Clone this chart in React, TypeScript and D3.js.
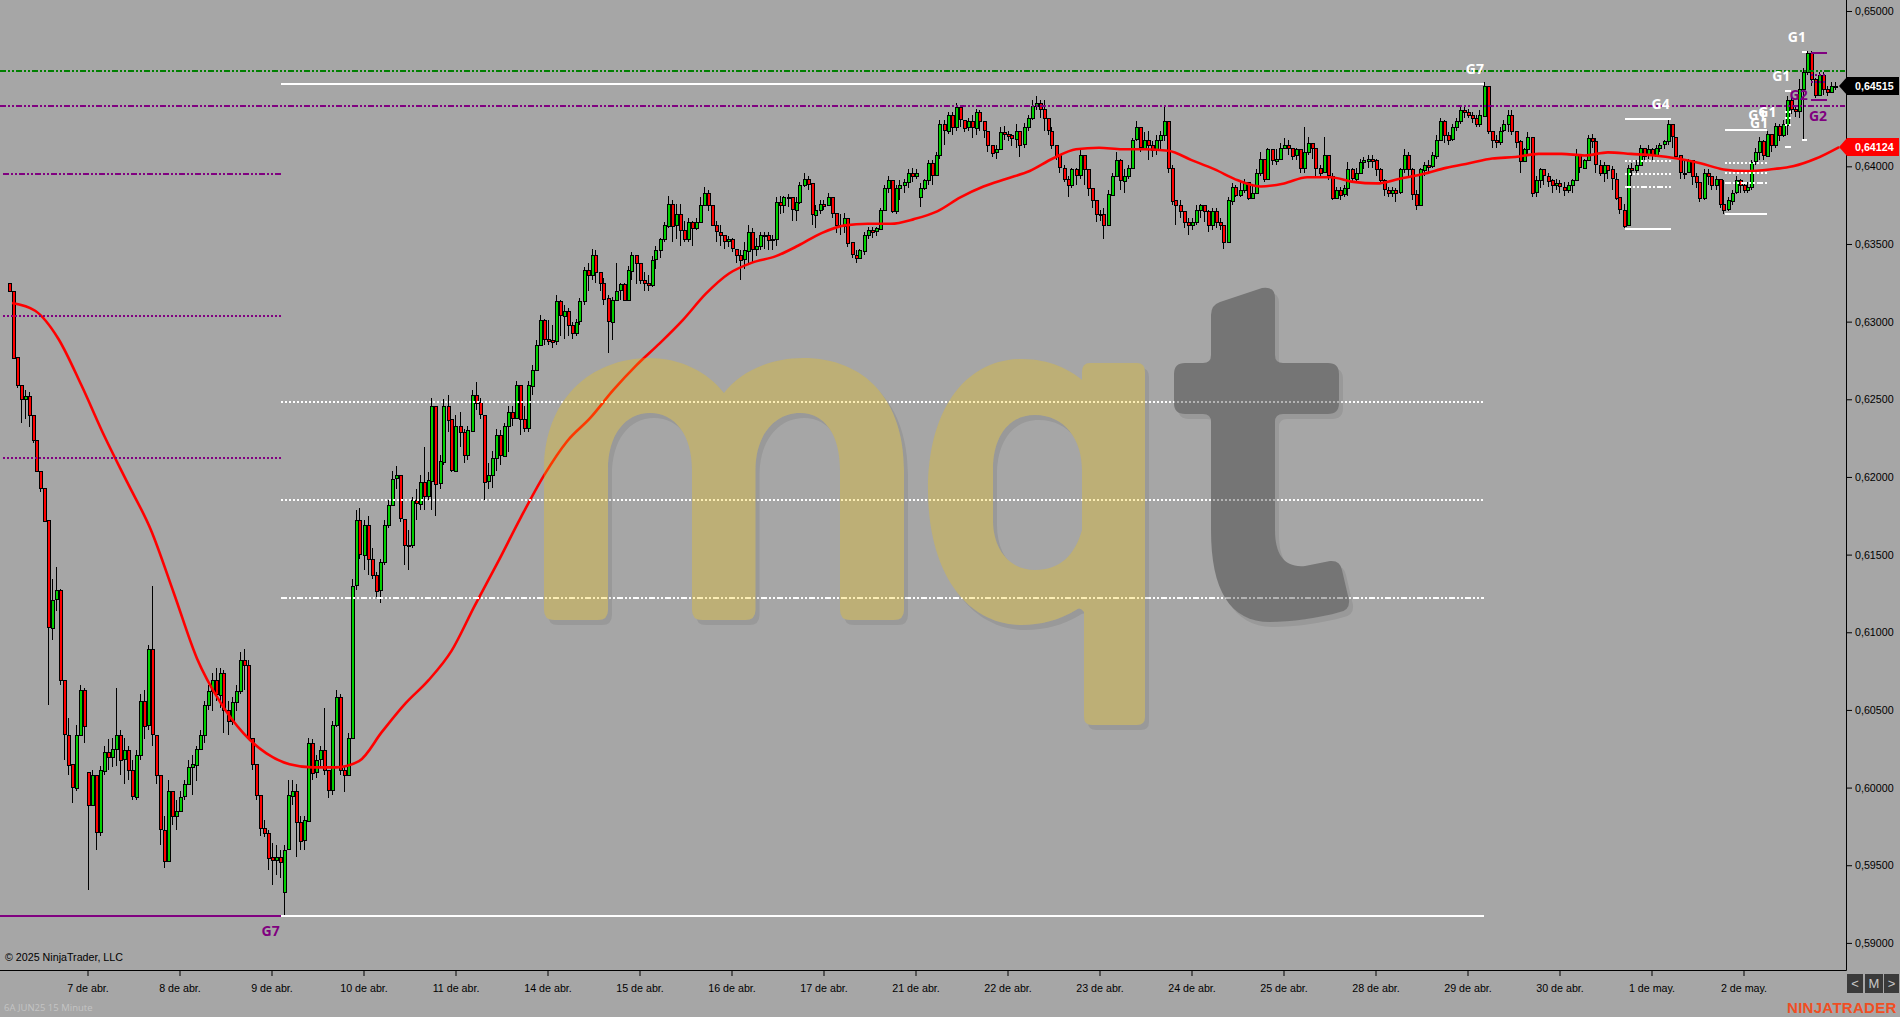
import { useRef, useEffect } from "react";
import * as d3 from "d3";

// bars are [high, low, close] or [high, low, close, open] in 1/10000 of a point, open defaults to previous close
const apr04 = [[6325,6319,6320,6325],[6320,6277,6277],[6277,6257,6259],[6259,6235,6250],[6256,6237,6252],[6255,6232,6240],[6240,6222,6224],[6224,6203,6204],[6204,6190,6193],[6193,6171,6172],[6172,6053,6103],[6134,6095,6121],[6142,6114,6127],[6128,6066,6069],[6069,6018,6034],[6045,6008,6015],[6015,5990,6000],[6040,5998,6034],[6066,6033,6063],[6064,6029,6040]];
const apr07 = [[6010,5934,5989,6010],[6011,5992,6008],[6008,5960,5971],[6014,5969,6011],[6027,6008,6023],[6031,6011,6020],[6032,6013,6025],[6064,6014,6034],[6037,6008,6018],[6032,6002,6024],[6027,6005,6011],[6018,5992,5994],[6024,5992,6021],[6060,6018,6056],[6063,6031,6040],[6092,6037,6089],[6130,6027,6034],[6034,6002,6008],[6008,5963,5973],[5982,5948,5953],[6005,5952,5998],[5998,5976,5982],[5992,5973,5985]];
const apr08 = [[5998,5984,5994],[6005,5992,6002],[6018,6002,6013],[6021,5995,6015],[6027,6004,6025],[6037,6025,6034],[6056,6029,6053],[6066,6050,6062],[6074,6049,6069],[6077,6056,6060],[6077,6051,6074],[6076,6035,6050],[6056,6034,6043],[6058,6040,6055],[6066,6049,6062],[6087,6060,6082],[6089,6063,6079],[6082,6031,6032],[6032,6011,6015],[6015,5992,5995],[5995,5969,5974],[5979,5968,5971],[5973,5947,5955]];
const apr09 = [[5964,5937,5953],[5963,5944,5955],[5960,5942,5952],[5963,5918,5960,5933],[6005,5960,5995],[6005,5989,5998],[6002,5955,5978],[5982,5960,5966],[5982,5960,5979],[6032,5992,6029],[6031,6005,6010],[6021,6006,6018],[6027,6014,6024],[6051,6008,6011],[6011,5993,5998],[6043,5995,6040],[6063,6039,6058],[6060,6008,6011],[6014,5997,6008],[6035,6008,6032],[6134,6032,6130],[6179,6127,6172],[6180,6147,6150]];
const apr10 = [[6172,6140,6169],[6175,6137,6147],[6154,6134,6137],[6139,6123,6127],[6147,6119,6145],[6172,6143,6169],[6185,6167,6182],[6204,6182,6199],[6207,6192,6201],[6201,6171,6173],[6173,6143,6156],[6166,6140,6156],[6187,6154,6185],[6192,6172,6183],[6201,6179,6197],[6219,6179,6188],[6203,6185,6198],[6251,6179,6246],[6246,6175,6196],[6214,6192,6210],[6250,6208,6246],[6253,6229,6237],[6237,6203,6204]];
const apr11 = [[6240,6204,6233],[6242,6219,6229],[6231,6209,6214],[6233,6211,6230],[6256,6230,6253],[6261,6243,6248],[6251,6237,6240],[6240,6185,6197],[6209,6192,6201],[6217,6193,6212],[6231,6204,6227],[6230,6208,6214],[6235,6214,6233],[6246,6216,6242],[6246,6233,6238],[6262,6237,6259],[6259,6227,6237],[6246,6229,6231],[6262,6229,6259],[6272,6253,6269],[6288,6268,6285],[6304,6284,6301],[6302,6285,6289]];
const apr14 = [[6301,6285,6288],[6298,6283,6287],[6317,6285,6313],[6314,6291,6304],[6311,6289,6307],[6309,6291,6298],[6300,6289,6293],[6302,6291,6300],[6315,6298,6313],[6335,6311,6333],[6338,6320,6330],[6347,6327,6343],[6346,6325,6332],[6330,6320,6325],[6328,6311,6315],[6317,6280,6300],[6316,6288,6314],[6338,6313,6320],[6325,6314,6324],[6325,6313,6314],[6336,6314,6333],[6345,6327,6343],[6343,6324,6338]];
const apr15 = [[6338,6324,6327],[6332,6320,6325],[6330,6320,6324],[6342,6322,6340],[6349,6334,6346],[6354,6341,6353],[6364,6351,6362],[6381,6360,6376],[6378,6351,6362],[6376,6353,6369],[6376,6349,6359],[6365,6351,6353],[6367,6351,6364],[6365,6349,6360],[6367,6359,6364],[6380,6364,6375],[6387,6375,6383],[6385,6371,6375],[6375,6362,6362],[6365,6351,6358],[6362,6349,6356],[6355,6347,6352],[6355,6348,6353]];
const apr16 = [[6354,6345,6347],[6346,6338,6343],[6346,6327,6340],[6351,6334,6346],[6362,6338,6358],[6360,6338,6347],[6354,6342,6349],[6358,6346,6356],[6358,6347,6356],[6358,6346,6353],[6356,6346,6353],[6380,6349,6377],[6381,6369,6375],[6381,6370,6380],[6382,6374,6380],[6380,6365,6372],[6380,6365,6377],[6390,6376,6388],[6396,6387,6392],[6394,6385,6389],[6389,6362,6369],[6375,6360,6372],[6378,6369,6376]];
const apr17 = [[6378,6372,6375],[6383,6375,6380],[6380,6367,6370],[6370,6357,6362],[6369,6356,6362],[6370,6357,6367],[6367,6348,6351],[6351,6341,6343],[6346,6338,6341],[6347,6341,6346],[6358,6343,6356],[6361,6353,6359],[6361,6354,6358],[6361,6355,6360],[6373,6360,6372],[6388,6372,6386],[6394,6383,6391],[6390,6370,6371],[6388,6369,6386],[6391,6378,6388],[6392,6383,6390],[6398,6386,6396],[6399,6390,6394]];
const apr21 = [[6398,6392,6396],[6389,6374,6386,6380],[6392,6385,6391],[6404,6388,6402],[6404,6388,6394],[6409,6396,6407],[6430,6405,6427],[6430,6414,6423],[6435,6421,6433],[6435,6420,6425],[6441,6423,6438],[6438,6425,6430],[6430,6422,6425],[6431,6423,6429],[6433,6418,6425],[6437,6420,6435],[6436,6423,6429],[6429,6418,6423],[6423,6409,6414],[6414,6406,6409],[6414,6405,6411],[6425,6411,6422],[6426,6417,6421]];
const apr22 = [[6423,6416,6420],[6421,6413,6418],[6427,6412,6423],[6420,6406,6414],[6428,6412,6425],[6433,6423,6431],[6443,6430,6439],[6445,6436,6441],[6443,6431,6437],[6443,6423,6431],[6431,6420,6423],[6425,6411,6414],[6414,6404,6407],[6407,6396,6399],[6401,6390,6392],[6394,6380,6388],[6399,6386,6398],[6399,6388,6394],[6411,6392,6407],[6407,6388,6398],[6398,6381,6386],[6386,6373,6378],[6378,6364,6369]];
const apr23 = [[6372,6365,6369],[6373,6353,6362],[6385,6362,6382],[6396,6382,6394],[6409,6396,6404],[6405,6385,6391],[6398,6383,6394],[6401,6392,6399],[6418,6399,6417],[6429,6416,6425],[6425,6409,6412],[6422,6411,6417],[6423,6404,6414],[6416,6406,6411],[6420,6407,6417],[6423,6411,6420],[6439,6416,6429],[6429,6396,6399],[6401,6375,6378],[6378,6362,6375],[6378,6367,6371],[6371,6360,6364],[6367,6356,6362]];
const apr24 = [[6367,6359,6364],[6375,6362,6372],[6376,6367,6375],[6375,6364,6371],[6372,6358,6362],[6373,6359,6371],[6373,6360,6364],[6367,6359,6362],[6362,6347,6351],[6380,6351,6378],[6389,6375,6387],[6388,6380,6382],[6391,6380,6385],[6392,6383,6390],[6390,6378,6380],[6388,6380,6383],[6398,6382,6396],[6409,6394,6405],[6405,6390,6392],[6412,6391,6411],[6411,6401,6404],[6411,6401,6405],[6415,6404,6412]];
const apr25 = [[6418,6411,6414],[6417,6407,6412],[6412,6404,6407],[6412,6404,6411],[6411,6396,6399],[6425,6396,6409],[6419,6407,6415],[6415,6405,6412],[6412,6394,6399],[6401,6394,6396],[6419,6396,6407],[6407,6391,6394],[6396,6378,6380],[6387,6380,6385],[6387,6378,6382],[6388,6380,6386],[6403,6381,6398],[6399,6390,6392],[6399,6390,6396],[6405,6396,6403],[6406,6398,6404],[6407,6399,6405],[6407,6399,6404]];
const apr28 = [[6405,6394,6398],[6399,6389,6391],[6392,6381,6385],[6387,6380,6383],[6387,6380,6385],[6386,6377,6383],[6399,6382,6398],[6411,6396,6407],[6409,6394,6398],[6399,6378,6382],[6385,6372,6375],[6399,6375,6398],[6403,6394,6401],[6404,6396,6400],[6409,6399,6407],[6420,6405,6417],[6431,6417,6429],[6430,6415,6420],[6422,6414,6417],[6427,6416,6425],[6431,6423,6429],[6439,6427,6436],[6439,6431,6435]];
const apr29 = [[6437,6431,6433],[6435,6428,6431],[6433,6425,6427],[6436,6425,6433],[6454,6433,6452],[6452,6421,6423],[6423,6412,6417],[6420,6412,6416],[6425,6414,6423],[6430,6422,6427],[6436,6422,6433],[6436,6420,6423],[6423,6412,6416],[6417,6396,6403],[6412,6404,6411],[6422,6407,6419],[6419,6380,6383],[6394,6380,6391],[6399,6386,6398],[6398,6388,6394],[6396,6387,6391],[6392,6383,6388],[6392,6385,6389]];
const apr30 = [[6391,6383,6387],[6390,6381,6385],[6390,6383,6388],[6392,6383,6391],[6411,6391,6407],[6407,6396,6399],[6405,6398,6404],[6420,6404,6418],[6421,6412,6416],[6418,6396,6401],[6404,6394,6396],[6403,6390,6401],[6401,6392,6398],[6400,6385,6392],[6396,6378,6380],[6380,6369,6372],[6376,6360,6362],[6401,6362,6399],[6402,6394,6398],[6404,6396,6401],[6414,6405,6412],[6412,6404,6407],[6414,6405,6411]];
const may01 = [[6412,6404,6407],[6414,6407,6412],[6415,6409,6414],[6417,6411,6416],[6430,6414,6427],[6427,6412,6419],[6419,6405,6407],[6407,6392,6396],[6404,6392,6396],[6405,6396,6404],[6404,6388,6394],[6396,6386,6390],[6390,6377,6380],[6398,6378,6396],[6398,6388,6394],[6394,6385,6388],[6394,6385,6392],[6392,6373,6376],[6391,6369,6372],[6380,6371,6378],[6385,6375,6383],[6394,6382,6391],[6392,6383,6388]];
const may02 = [[6390,6383,6385],[6390,6383,6387],[6404,6385,6403],[6412,6401,6409],[6419,6404,6416],[6417,6404,6407],[6423,6406,6421],[6421,6409,6414],[6428,6412,6426],[6427,6416,6420],[6430,6419,6427],[6445,6420,6443],[6445,6434,6437],[6439,6432,6436],[6456,6431,6450],[6463,6417,6461],[6474,6459,6473],[6474,6452,6456],[6457,6444,6446],[6461,6445,6459],[6461,6446,6450],[6452,6445,6448],[6454,6448,6452],[6454,6449,6451.5]];

const dayLabels = ["7 de abr.","8 de abr.","9 de abr.","10 de abr.","11 de abr.","14 de abr.","15 de abr.","16 de abr.","17 de abr.","21 de abr.","22 de abr.","23 de abr.","24 de abr.","25 de abr.","28 de abr.","29 de abr.","30 de abr.","1 de may.","2 de may."];
const sessions = [apr04, apr07, apr08, apr09, apr10, apr11, apr14, apr15, apr16, apr17, apr21, apr22, apr23, apr24, apr25, apr28, apr29, apr30, may01, may02];
const sessionStarts = [-0.853, 0, 1, 2, 3, 4, 5, 6, 7, 8, 9, 10, 11, 12, 13, 14, 15, 16, 17, 18];
const sessionEnds = [0, 1, 2, 3, 4, 5, 6, 7, 8, 9, 10, 11, 12, 13, 14, 15, 16, 17, 18, 19.04];

// red moving average, evenly spaced from first to last point
const maValues = [6312,6307,6289,6259,6226,6196,6166,6125,6083,6055,6035,6022,6015,6013,6013,6017,6036,6054,6069,6088,6117,6145,6174,6201,6223,6238,6256,6272,6286,6301,6318,6331,6338,6342,6349,6357,6362,6363,6363,6366,6371,6380,6387,6392,6397,6405,6411,6412,6411,6411,6410,6404,6398,6391,6387,6389,6393,6393,6390,6389,6392,6395,6399,6402,6405,6406,6408,6408,6407,6409,6408,6407,6405,6402,6398,6397,6398,6400,6405,6412.4];
const maDayRange = [-0.82, 19.04];

const priceTicks = [0.65, 0.645, 0.64, 0.635, 0.63, 0.625, 0.62, 0.615, 0.61, 0.605, 0.6, 0.595, 0.59];

// price, from day, to day, colour, dash kind
const levels: [number, number, number, string, string][] = [
  [0.64614, -1, 19.1, "#008000", "dashdot"],
  [0.64388, -1, 19.1, "#800080", "dashdot"],
  [0.63951, -0.92, 2.1, "#800080", "dashdot"],
  [0.63036, -0.92, 2.1, "#800080", "dot"],
  [0.62122, -0.92, 2.1, "#800080", "dot"],
  [0.59174, -1, 2.1, "#800080", "solid"],
  [0.6453, 2.1, 15.18, "#ffffff", "solid"],
  [0.62483, 2.1, 15.18, "#ffffff", "dot"],
  [0.61852, 2.1, 15.18, "#ffffff", "dot"],
  [0.61221, 2.1, 15.18, "#ffffff", "dashdot"],
  [0.59174, 2.1, 15.18, "#ffffff", "solid"],
  [0.64305, 16.71, 17.21, "#ffffff", "solid"],
  [0.64034, 16.71, 17.21, "#ffffff", "dot"],
  [0.63951, 16.71, 17.21, "#ffffff", "dot"],
  [0.63867, 16.71, 17.21, "#ffffff", "dashdot"],
  [0.63597, 16.71, 17.21, "#ffffff", "solid"],
  [0.64234, 17.8, 18.26, "#ffffff", "solid"],
  [0.64021, 17.8, 18.26, "#ffffff", "dot"],
  [0.63957, 17.8, 18.26, "#ffffff", "dot"],
  [0.63893, 17.8, 18.26, "#ffffff", "dashdot"],
  [0.63693, 17.8, 18.26, "#ffffff", "solid"],
  [0.64485, 18.45, 18.52, "#ffffff", "solid"],
  [0.6435, 18.45, 18.52, "#ffffff", "dot"],
  [0.64311, 18.45, 18.52, "#ffffff", "dot"],
  [0.64266, 18.45, 18.52, "#ffffff", "dot"],
  [0.64124, 18.45, 18.52, "#ffffff", "solid"],
  [0.64736, 18.64, 18.69, "#ffffff", "solid"],
  [0.6417, 18.64, 18.69, "#ffffff", "solid"],
  [0.6473, 18.73, 18.91, "#800080", "solid"],
  [0.64427, 18.73, 18.91, "#800080", "solid"],
  [0.64588, 18.73, 18.91, "#800080", "dot"],
  [0.64543, 18.73, 18.91, "#800080", "dot"],
];

// text, day, price, colour
const labels: [string, number, number, string][] = [
  ["G7", 1.99, 0.59045, "#800080"],
  ["G7", 15.08, 0.64594, "#ffffff"],
  ["G4", 17.1, 0.64369, "#ffffff"],
  ["G1", 18.58, 0.648, "#ffffff"],
  ["G1", 18.41, 0.64549, "#ffffff"],
  ["G1", 18.26, 0.64318, "#ffffff"],
  ["G1", 18.15, 0.64298, "#ffffff"],
  ["G1", 18.17, 0.64247, "#ffffff"],
  ["G2", 18.6, 0.64427, "#800080"],
  ["G2", 18.81, 0.64292, "#800080"],
];

const lastPrice = 0.64515;
const lastMa = 0.64124;

const dashes: Record<string, string | null> = {
  solid: null,
  dot: "2 2",
  dashdot: "6 2 2 2 2 2",
};

const mPath = "M544 610L544 470C544 400 590 358 650 358C680 358 708 372 724 393C740 372 770 358 803 358C865 358 904 400 904 470L904 610Q904 620 894 620L850 620Q840 620 840 610L840 470C840 435 825 413 800 413C775 413 755.5 435 755.5 470L755.5 610Q755.5 620 745.5 620L702 620Q692 620 692 610L692 470C692 435 675 413 650 413C625 413 608 435 608 470L608 610Q608 620 598 620L554 620Q544 620 544 610Z";
const qPath = "M928 490C928 410 965 359 1022 359C1050 359 1070 370 1082 380L1082 372Q1082 363 1090 363L1137 363Q1145 363 1145 372L1145 717Q1145 725 1137 725L1092 725Q1084 725 1084 717L1084 612Q1080 606 1076 610C1060 620 1040 625 1022 625C965 625 928 570 928 490ZM993 470C993 435 1010 415 1035 415C1065 415 1082 440 1082 470L1082 530C1075 555 1060 570 1035 570C1010 570 993 550 993 520Z";
const tPath = "M1211 315Q1211 305 1220 302L1262 288Q1275 286 1275 298L1275 355Q1275 363 1283 363L1328 363Q1339 363 1339 374L1339 403Q1339 414 1328 414L1283 414Q1275 414 1275 422L1275 530C1275 555 1285 568 1305 566L1330 561Q1340 560 1342 570L1349 600Q1350 610 1340 612C1320 618 1290 622 1270 622C1230 622 1211 590 1211 530L1211 422Q1211 414 1203 414L1185 414Q1174 414 1174 403L1174 374Q1174 363 1185 363L1203 363Q1211 363 1211 355Z";

export default function App() {
  const svgRef = useRef(null);

  useEffect(() => {
    const plotRight = 1846;
    const plotBottom = 970;
    const bg = "#a6a6a6";

    const xDay = d3.scaleLinear().domain([0, 18]).range([87.5, 1743.5]);
    const xTicks = d3.scalePoint().domain(dayLabels).range([87.5, 1743.5]);
    const y = d3.scaleLinear().domain([0.59, 0.65]).range([942.9, 11]);

    const svg = d3.select(svgRef.current);
    svg.selectAll("*").remove();

    svg.append("rect").attr("width", 1900).attr("height", 1017).attr("fill", bg);

    const plot = svg.append("g");

    // flatten the sessions into candles
    let prevClose = sessions[0][0][3];
    const candles: any[] = [];
    sessions.forEach((bars, s) => {
      const step = (sessionEnds[s] - sessionStarts[s]) / bars.length;
      bars.forEach((b, j) => {
        const open = b.length > 3 ? b[3] : prevClose;
        candles.push({ day: sessionStarts[s] + j * step, high: b[0], low: b[1], close: b[2], open });
        prevClose = b[2];
      });
    });

    const px = (v: number) => y(v / 10000);
    const bodyTop = (d: any) => Math.round(px(Math.max(d.open, d.close)));
    const bodyH = (d: any) => Math.max(1, Math.round(Math.abs(px(d.open) - px(d.close))));

    const candleG = plot.append("g").attr("shape-rendering", "crispEdges");
    candleG
      .selectAll("line")
      .data(candles)
      .join("line")
      .attr("x1", (d) => Math.round(xDay(d.day)) + 0.5)
      .attr("x2", (d) => Math.round(xDay(d.day)) + 0.5)
      .attr("y1", (d) => px(d.high))
      .attr("y2", (d) => px(d.low))
      .attr("stroke", "#000");
    candleG
      .selectAll("rect.outer")
      .data(candles)
      .join("rect")
      .attr("class", "outer")
      .attr("x", (d) => Math.round(xDay(d.day)) - 1)
      .attr("width", 4)
      .attr("y", (d) => bodyTop(d))
      .attr("height", (d) => bodyH(d) + 1)
      .attr("fill", "#000");
    candleG
      .selectAll("rect.inner")
      .data(candles.filter((d) => bodyH(d) > 1))
      .join("rect")
      .attr("class", "inner")
      .attr("x", (d) => Math.round(xDay(d.day)))
      .attr("width", 1.5)
      .attr("y", (d) => bodyTop(d) + 1)
      .attr("height", (d) => bodyH(d) - 1)
      .attr("fill", (d) => (d.close >= d.open ? "#00d000" : "#ff0000"));

    // moving average
    const maX = d3.scaleLinear().domain([0, maValues.length - 1]).range(maDayRange);
    const maLine = d3
      .line<number>()
      .x((_, i) => xDay(maX(i)))
      .y((d) => px(d))
      .curve(d3.curveMonotoneX);
    plot
      .append("path")
      .attr("d", maLine(maValues))
      .attr("fill", "none")
      .attr("stroke", "#ff0000")
      .attr("stroke-width", 2.6);

    // horizontal levels
    plot
      .selectAll("line.level")
      .data(levels)
      .join("line")
      .attr("class", "level")
      .attr("x1", (d) => Math.max(0, xDay(d[1])))
      .attr("x2", (d) => Math.min(plotRight, xDay(d[2])))
      .attr("y1", (d) => Math.round(y(d[0])))
      .attr("y2", (d) => Math.round(y(d[0])))
      .attr("stroke", (d) => d[3])
      .attr("stroke-width", 2)
      .attr("stroke-dasharray", (d) => dashes[d[4]])
      .attr("shape-rendering", "crispEdges");

    // watermark sits over the chart and tints it, its shadow only shows outside the letters
    const mask = svg.append("defs").append("mask").attr("id", "logoOut");
    mask.append("rect").attr("width", 1900).attr("height", 1017).attr("fill", "#fff");
    [mPath, qPath, tPath].forEach((p) => mask.append("path").attr("d", p).attr("fill", "#000").attr("fill-rule", "evenodd"));

    const logo = svg.append("g");
    const shadow = logo.append("g").attr("mask", "url(#logoOut)").append("g").attr("transform", "translate(4,5)").attr("fill", "#000").attr("fill-opacity", 0.08).attr("fill-rule", "evenodd");
    shadow.append("path").attr("d", mPath);
    shadow.append("path").attr("d", qPath);
    shadow.append("path").attr("d", tPath);
    logo.append("path").attr("d", mPath).attr("fill", "#f5c600").attr("fill-opacity", 0.29);
    logo.append("path").attr("d", qPath).attr("fill", "#f5c600").attr("fill-opacity", 0.29).attr("fill-rule", "evenodd");
    logo.append("path").attr("d", tPath).attr("fill", "#000").attr("fill-opacity", 0.295);

    // signal labels
    svg
      .append("g")
      .selectAll("text")
      .data(labels)
      .join("text")
      .attr("x", (d) => xDay(d[1]))
      .attr("y", (d) => y(d[2]))
      .attr("text-anchor", "middle")
      .attr("font-family", "'Open Sans', sans-serif")
      .attr("font-weight", 700)
      .attr("font-size", 14)
      .attr("fill", (d) => d[3])
      .text((d) => d[0]);

    // axes
    const axisFont = "'Liberation Sans', Arial, sans-serif";
    const gx = svg
      .append("g")
      .attr("transform", `translate(0,${plotBottom})`)
      .call(d3.axisBottom(xTicks).tickSize(6).tickPadding(8));
    gx.select(".domain").remove();
    gx.selectAll("text").attr("font-family", axisFont).attr("font-size", 10.7).attr("fill", "#000");
    gx.selectAll("line").attr("stroke", "#000");

    const gy = svg
      .append("g")
      .attr("transform", `translate(${plotRight},0)`)
      .call(
        d3
          .axisRight(y)
          .tickValues(priceTicks)
          .tickSize(6)
          .tickPadding(3)
          .tickFormat((d: any) => d3.format(".5f")(d).replace(".", ","))
      );
    gy.select(".domain").remove();
    gy.selectAll("text").attr("font-family", axisFont).attr("font-size", 10.7).attr("fill", "#000");
    gy.selectAll("line").attr("stroke", "#000");

    svg.append("path").attr("d", `M0 ${plotBottom + 0.5}H${plotRight + 0.5}V0`).attr("fill", "none").attr("stroke", "#000").attr("stroke-width", 1);

    // price flags
    const flag = (price: number, color: string) => {
      const yy = Math.round(y(price));
      svg
        .append("path")
        .attr("d", `M1839 ${yy}L1847 ${yy - 9}H1899V${yy + 9}H1847Z`)
        .attr("fill", color);
      svg
        .append("text")
        .attr("x", 1855)
        .attr("y", yy + 4)
        .attr("font-family", axisFont)
        .attr("font-weight", 700)
        .attr("font-size", 10.7)
        .attr("fill", "#fff")
        .text(d3.format(".5f")(price).replace(".", ","));
    };
    flag(lastPrice, "#000");
    flag(lastMa, "#ff0000");

    // corner texts
    svg.append("text").attr("x", 5).attr("y", 961).attr("font-family", axisFont).attr("font-size", 10.7).attr("fill", "#000").text("© 2025 NinjaTrader, LLC");
    svg.append("text").attr("x", 4).attr("y", 1011).attr("font-family", "'Open Sans', sans-serif").attr("font-size", 9.5).attr("fill", "#c4c4c4").text("6A JUN25 15 Minute");
    svg.append("text").attr("x", 1787).attr("y", 1013).attr("font-family", axisFont).attr("font-weight", 700).attr("font-size", 15).attr("letter-spacing", 0.3).attr("fill", "#f04e23").text("NINJATRADER");

    const buttons = svg.append("g");
    [["<", 1847, 16], ["M", 1865, 18], [">", 1884, 15]].forEach(([t, bx, bw]: any) => {
      buttons.append("rect").attr("x", bx).attr("y", 974).attr("width", bw).attr("height", 19).attr("fill", "#3a3a3a");
      buttons
        .append("text")
        .attr("x", bx + bw / 2)
        .attr("y", 988)
        .attr("text-anchor", "middle")
        .attr("font-family", axisFont)
        .attr("font-size", 13)
        .attr("fill", "#c8c8c8")
        .text(t);
    });
  }, []);

  return <svg ref={svgRef} width={1900} height={1017} style={{ position: "fixed", left: 0, top: 0 }} />;
}
